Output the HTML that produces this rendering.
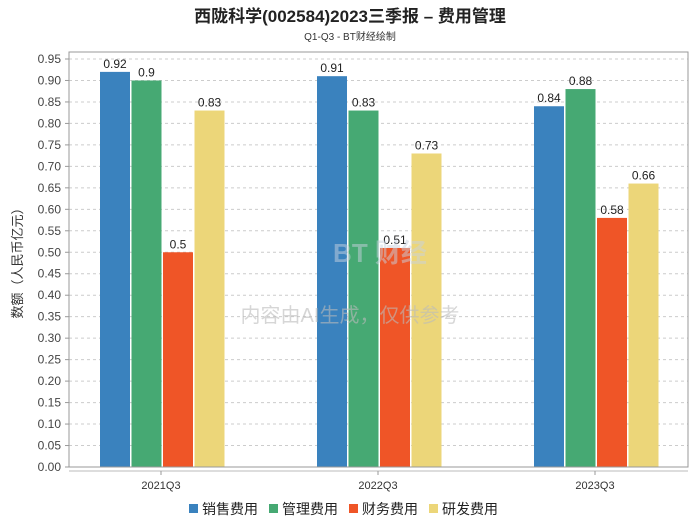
<!DOCTYPE html>
<html><head><meta charset="utf-8"><style>
body{margin:0;background:#fff;}
svg{display:block;font-family:"Liberation Sans","Noto Sans CJK SC",sans-serif;}
</style></head><body>
<svg id="chart" width="700" height="524">
<text x="350" y="22" text-anchor="middle" font-size="17" font-weight="bold" fill="#222">西陇科学(002584)2023三季报 – 费用管理</text>
<text x="350" y="40" text-anchor="middle" font-size="10" fill="#333">Q1-Q3 - BT财经绘制</text>
<text transform="translate(22,260) rotate(-90)" text-anchor="middle" font-size="13" fill="#333">数额（人民币亿元）</text>
<g id="grid"></g><g id="bars"></g><g id="axes"></g><g id="legend"></g>
<text x="380" y="262" text-anchor="middle" font-size="26" fill="#c8d2e0" fill-opacity="0.5" font-weight="bold">BT 财经</text>
<text x="350" y="322" text-anchor="middle" font-size="20" fill="#bbb" fill-opacity="0.6">内容由AI生成，仅供参考</text>
</svg>
<script>
const categories=["2021Q3","2022Q3","2023Q3"];
const seriesNames=["销售费用","管理费用","财务费用","研发费用"];
const sales=[0.92,0.91,0.84];
const admin=[0.9,0.83,0.88];
const finance=[0.5,0.51,0.58];
const rnd=[0.83,0.73,0.66];
const yTicks=[0,0.05,0.1,0.15,0.2,0.25,0.3,0.35,0.4,0.45,0.5,0.55,0.6,0.65,0.7,0.75,0.8,0.85,0.9,0.95];
const colors=["#3a82be","#46a973","#ef5527","#ecd679"];
const NS="http://www.w3.org/2000/svg";
const L=69,R=688,T=52,B=467,yMax=0.95,yTop=59;
const y=v=>B-(v/yMax)*(B-yTop);
const xc=i=>L+92+i*217;
function mk(tag,attrs,parent,text){const e=document.createElementNS(NS,tag);for(const k in attrs)e.setAttribute(k,attrs[k]);if(text!==undefined)e.textContent=text;parent.appendChild(e);return e;}
const grid=document.getElementById('grid'),axes=document.getElementById('axes'),bars=document.getElementById('bars'),legend=document.getElementById('legend');
mk('rect',{x:L,y:T,width:R-L,height:B-T,fill:'none',stroke:'#999'},axes);
yTicks.forEach(t=>{
 const gl=mk('line',{x1:L,x2:R,y1:y(t),y2:y(t),stroke:'#ccc','stroke-dasharray':'3,3'},grid);
 
 
 const lb=mk('text',{x:L-8,y:y(t)+4,'text-anchor':'end','font-size':12,fill:'#444'},axes,t.toFixed(2));
 
 
 mk('line',{x1:L-4,x2:L,y1:y(t),y2:y(t),stroke:'#999'},axes);
});
mk('line',{x1:L,x2:R,y1:B+4,y2:B+4,stroke:'#bbb'},axes);
const series=[sales,admin,finance,rnd];
categories.forEach((c,i)=>{
 const lb=mk('text',{x:xc(i),y:B+22,'text-anchor':'middle','font-size':11,fill:'#333'},axes,c);
 
 
 mk('line',{x1:xc(i),x2:xc(i),y1:B+4,y2:B+8,stroke:'#999'},axes);
 series.forEach((s,j)=>{
  const x=xc(i)-61+j*31.5;
  const r=mk('rect',{x:x,y:y(s[i]),width:30,height:B-y(s[i]),fill:colors[j]},bars);
  
  
  const v=mk('text',{x:x+15,y:y(s[i])-4,'text-anchor':'middle','font-size':12,fill:'#222'},bars,String(s[i]));
  
  
 });
});
seriesNames.forEach((n,j)=>{
 const x=189+j*80;
 const g=mk('g',{},legend);
 
 
 mk('rect',{x:x,y:504,width:9,height:9,fill:colors[j]},g);
 mk('text',{x:x+13,y:514,'font-size':14,fill:'#222'},g,n);
});
</script>
</body></html>
